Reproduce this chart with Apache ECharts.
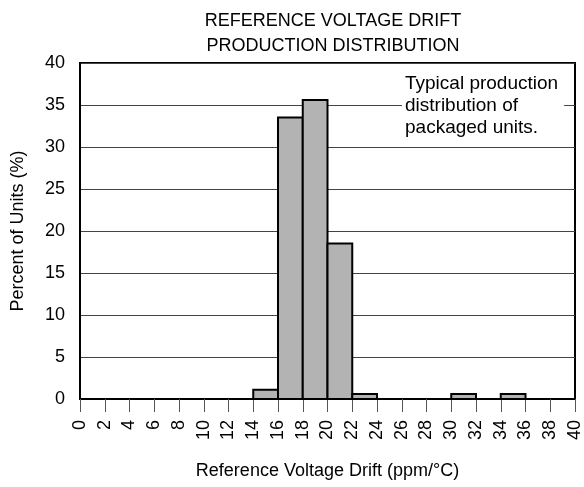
<!DOCTYPE html>
<html>
<head>
<meta charset="UTF-8">
<script src="https://cdn.jsdelivr.net/npm/echarts@6/dist/echarts.min.js"></script>
<style>
  html, body { margin: 0; padding: 0; background: #fff; }
  #main { width: 584px; height: 487px; }
</style>
</head>
<body>
<div id="main"></div>
<script>
// bin edges (ppm/°C) and percent of units in each bin
var binStart = [14, 16, 18, 20, 22, 30, 34];
var binEnd = [16, 18, 20, 22, 24, 32, 36];
var percent = [1.1, 33.5, 35.6, 18.5, 0.6, 0.6, 0.6];
var yTicks = [0, 5, 10, 15, 20, 25, 30, 35, 40];
var noteLines = ['Typical production', 'distribution of', 'packaged units.'];

var bins = [];
binStart.forEach(function (s, i) {
  bins.push([s, binEnd[i], percent[i]]);
});

var font = 'Liberation Sans, Arial, sans-serif';
var myChart = echarts.init(document.getElementById('main'));

var option = {
  animation: false,
  title: {
    text: 'REFERENCE VOLTAGE DRIFT\nPRODUCTION DISTRIBUTION',
    left: 328, top: 4, textAlign: 'center',
    textStyle: { fontFamily: font, fontSize: 18, fontWeight: 'normal', color: '#000', lineHeight: 25 }
  },
  grid: {
    left: 80, right: 9, top: 63, bottom: 88,
    containLabel: false, outerBoundsMode: 'none',
    show: true, borderColor: '#000', borderWidth: 2
  },
  xAxis: {
    type: 'value', min: 0, max: 40, interval: 2,
    name: 'Reference Voltage Drift (ppm/°C)',
    nameLocation: 'middle', nameGap: 63,
    nameTextStyle: { fontFamily: font, fontSize: 18, color: '#000' },
    axisLine: { show: true, lineStyle: { color: '#000', width: 2 } },
    axisTick: { show: true, length: 13, lineStyle: { color: '#555', width: 1 } },
    axisLabel: { rotate: 90, margin: 21, fontFamily: font, fontSize: 18, color: '#000' },
    splitLine: { show: false }
  },
  yAxis: {
    type: 'value', min: 0, max: 40, interval: 5,
    name: 'Percent of Units (%)',
    nameLocation: 'middle', nameGap: 53,
    nameTextStyle: { fontFamily: font, fontSize: 18, color: '#000' },
    axisLine: { show: true, lineStyle: { color: '#000', width: 2 } },
    axisTick: { show: false },
    axisLabel: {
      margin: 15, fontFamily: font, fontSize: 18, color: '#000',
      formatter: function (v) { return yTicks.indexOf(v) >= 0 ? String(v) : ''; }
    },
    splitLine: { show: true, lineStyle: { color: '#444', width: 1 } }
  },
  graphic: [{
    type: 'text', left: 402, top: 73, z: 10,
    style: {
      text: noteLines.join('\n'), fontFamily: font, fontSize: 19, lineHeight: 22,
      fill: '#000', backgroundColor: '#fff', padding: [0, 6, 0, 3]
    }
  }],
  series: [{
    type: 'custom',
    data: bins,
    encode: { x: [0, 1], y: 2 },
    renderItem: function (params, api) {
      var p0 = api.coord([api.value(0), api.value(2)]);
      var p1 = api.coord([api.value(1), 0]);
      return {
        type: 'rect',
        shape: { x: p0[0], y: p0[1], width: p1[0] - p0[0], height: p1[1] - p0[1] },
        style: { fill: '#b3b3b3', stroke: '#000', lineWidth: 2 }
      };
    }
  }]
};
myChart.setOption(option);
</script>
</body>
</html>
